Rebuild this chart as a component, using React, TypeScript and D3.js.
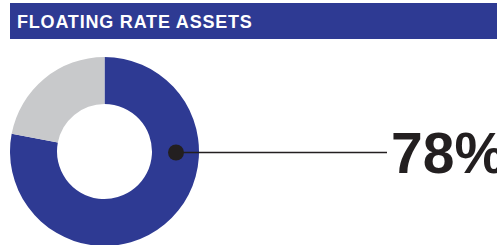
import React, { useEffect, useRef } from 'react';
import * as d3 from 'd3';

const title = 'FLOATING RATE ASSETS';
const categories = ['Floating rate', 'Other'];
const values = [78, 22];
const colors = ['#2e3a93', '#c8c9cb'];
const labelValue = '78%';

const App: React.FC = () => {
  const ref = useRef<SVGSVGElement | null>(null);

  useEffect(() => {
    const width = 497;
    const height = 245;
    const svg = d3.select(ref.current).attr('width', width).attr('height', height);
    svg.selectAll('*').remove();

    // header bar
    svg.append('rect').attr('x', 10).attr('y', 3).attr('width', width - 10).attr('height', 36).attr('fill', '#2e3a93');
    svg
      .append('text')
      .attr('x', 17)
      .attr('y', 28)
      .attr('fill', '#fff')
      .style('font-family', '"Liberation Sans", Arial, sans-serif')
      .style('font-weight', 700)
      .style('font-size', '18px')
      .style('letter-spacing', '0.8px')
      .text(title);

    const cx = 104.5;
    const cy = 151.5;
    const outer = 94.5;
    const inner = 47.5;

    const pie = d3.pie<number>().sort(null).value((d) => d);
    const arc = d3.arc<d3.PieArcDatum<number>>().innerRadius(inner).outerRadius(outer);

    const g = svg.append('g').attr('transform', `translate(${cx},${cy})`);
    g.selectAll('path')
      .data(pie(values))
      .enter()
      .append('path')
      .attr('d', arc)
      .attr('fill', (_, i) => colors[i])
      .append('title')
      .text((_, i) => categories[i]);

    // callout
    const dotX = (inner + outer) / 2 + 0.5;
    svg
      .append('line')
      .attr('x1', cx + dotX)
      .attr('x2', 387)
      .attr('y1', cy + 1)
      .attr('y2', cy + 1)
      .attr('stroke', '#231f20')
      .attr('stroke-width', 1.5);
    svg.append('circle').attr('cx', cx + dotX).attr('cy', cy + 1).attr('r', 8).attr('fill', '#231f20');

    svg
      .append('text')
      .attr('x', 391)
      .attr('y', 173)
      .attr('fill', '#231f20')
      .style('font-family', '"Liberation Sans", Arial, sans-serif')
      .style('font-weight', 700)
      .style('font-size', '57px')
      .text(labelValue);
  }, []);

  return <svg ref={ref} style={{ position: 'absolute', left: 0, top: 0 }} />;
};

export default App;
